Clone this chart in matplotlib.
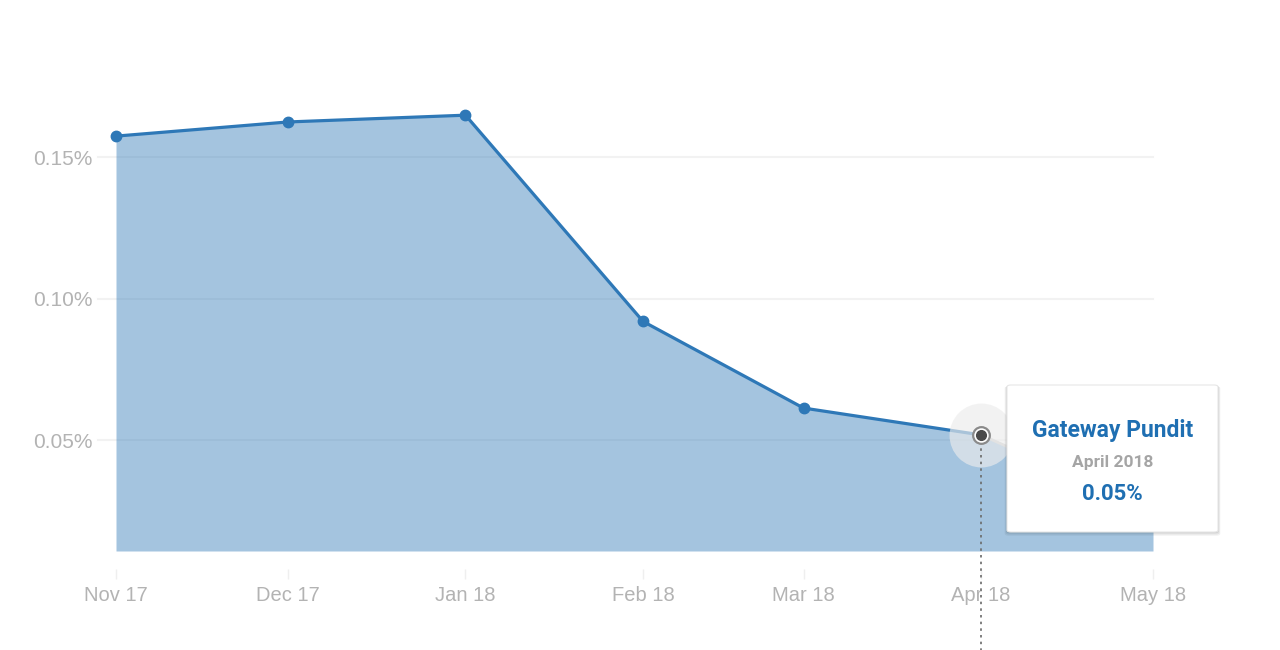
import matplotlib
matplotlib.use('Agg')
import matplotlib.pyplot as plt
import matplotlib.dates as mdates
from matplotlib.patches import FancyBboxPatch
import numpy as np

# monthly share of visits, in percent
months = ['2017-11', '2017-12', '2018-01', '2018-02', '2018-03', '2018-04', '2018-05']
share = [0.1574, 0.1624, 0.1648, 0.0919, 0.0613, 0.0518, 0.0246]
tick_labels = ['Nov 17', 'Dec 17', 'Jan 18', 'Feb 18', 'Mar 18', 'Apr 18', 'May 18']
y_ticks = [0.05, 0.10, 0.15]
y_tick_labels = ['0.05%', '0.10%', '0.15%']

site = 'Gateway Pundit'
hover_month = 'April 2018'
hover_value = '0.05%'
hover_idx = 5

blue = '#2e78b7'
grey_txt = '#b3b3b3'

plt.rcParams['font.family'] = ['Liberation Sans', 'DejaVu Sans']

dates = [np.datetime64(m + '-01') for m in months]
x = mdates.date2num(dates)

fig = plt.figure(figsize=(12.8, 6.5), dpi=100)
ax = fig.add_axes([116 / 1280, 99 / 650, 1037 / 1280, 491 / 650])

ymin, ymax = 0.01078, 0.1843
ax.set_xlim(x[0], x[-1])
ax.set_ylim(ymin, ymax)

# faint gridlines, a little longer than the plot to the left
for t in y_ticks:
    ax.plot([-0.0174, 1], [t, t], transform=ax.get_yaxis_transform(),
            color='#f2f2f2', lw=1.5, clip_on=False, zorder=0)

ax.fill_between(x, share, ymin, color=blue, alpha=0.43, lw=0, zorder=1)

# last month (incomplete) in light grey
ax.plot(x[hover_idx:], share[hover_idx:], color='#d0d0d0', lw=2, zorder=2)
ax.plot(x[:hover_idx + 1], share[:hover_idx + 1], color=blue, lw=2.3, zorder=3)
ax.plot(x[:hover_idx], share[:hover_idx], 'o', color=blue, ms=7.5, zorder=4,
        clip_on=False)

# hover marker
hx, hy = x[hover_idx], share[hover_idx]
ax.plot([hx, hx], [hy, -0.03], color='#6a6a6a', lw=1.2, ls=(0, (1.5, 2.5)),
        clip_on=False, zorder=6)
ax.plot(hx, hy, 'o', ms=46, color='#ececec', alpha=0.65, mec='none', zorder=5)
ax.plot(hx, hy, 'o', ms=12, mfc='white', mec='#8a8a8a', mew=1.6, zorder=7)
ax.plot(hx, hy, 'o', ms=7, color='#4a4a4a', zorder=8)

ax.set_xticks(x)
ax.set_xticklabels(tick_labels)
ax.set_yticks(y_ticks)
ax.set_yticklabels(y_tick_labels)

for s in ax.spines.values():
    s.set_visible(False)
ax.spines['bottom'].set_position(('outward', 13))
ax.tick_params(axis='x', length=7, width=1, color='#efefef', pad=5,
               labelsize=14.5, labelcolor=grey_txt)
ax.tick_params(axis='y', length=0, pad=17, labelsize=15, labelcolor=grey_txt)

# tooltip box with a soft shadow
bx, by, bw, bh = 1007 / 1280, 118 / 650, 211 / 1280, 147 / 650
for i, a in enumerate([0.05, 0.06, 0.08]):
    d = (3 - i) * 0.0012
    fig.patches.append(FancyBboxPatch((bx - d * 0.5, by - d * 1.6), bw + d, bh + d,
                                      boxstyle='round,pad=0,rounding_size=0.003',
                                      transform=fig.transFigure, fc='black', ec='none',
                                      alpha=a, zorder=9))
fig.patches.append(FancyBboxPatch((bx, by), bw, bh,
                                  boxstyle='round,pad=0,rounding_size=0.003',
                                  transform=fig.transFigure, fc='white', ec='#e6e6e6',
                                  lw=0.8, zorder=10))
cx = bx + bw / 2
fig.text(cx, 1 - 430 / 650, site, ha='center', va='center', color='#1f6fb2',
         fontsize=16.5, fontweight='bold', family=['Roboto', 'DejaVu Sans'], zorder=11)
fig.text(cx, 1 - 462 / 650, hover_month, ha='center', va='center', color='#a5a5a5',
         fontsize=12.5, fontweight='bold', family=['Roboto', 'DejaVu Sans'], zorder=11)
fig.text(cx, 1 - 494 / 650, hover_value, ha='center', va='center', color='#1f6fb2',
         fontsize=16, fontweight='bold', family=['Roboto', 'DejaVu Sans'], zorder=11)

fig.savefig('out.png', dpi=100, facecolor='white')
